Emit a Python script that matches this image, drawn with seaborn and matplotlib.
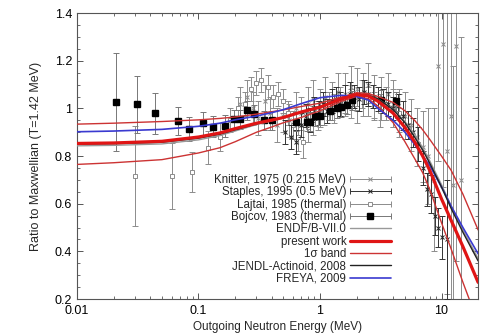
import numpy as np
import pandas as pd
import matplotlib
matplotlib.use("Agg")
import matplotlib.pyplot as plt
import seaborn as sns
from matplotlib.lines import Line2D
from matplotlib.container import ErrorbarContainer
from matplotlib.legend_handler import HandlerErrorbar
from matplotlib.ticker import FixedLocator, FuncFormatter, MultipleLocator, LogLocator, NullFormatter

# ---------------- data ----------------
E_grid = [0.01, 0.02, 0.05, 0.1, 0.15, 0.2, 0.3, 0.4, 0.5, 0.7, 1.0, 1.5, 2.0, 2.5,
          3.0, 4.0, 5.0, 6.0, 7.0, 8.0, 10.0, 12.0, 15.0, 20.0]
present = [0.853, 0.855, 0.862, 0.880, 0.897, 0.915, 0.938, 0.951, 0.962, 0.985, 1.005, 1.04,
           1.058, 1.052, 1.03, 0.98, 0.92, 0.86, 0.80, 0.74, 0.62, 0.53, 0.42, 0.27]
band_up = [0.934, 0.938, 0.945, 0.952, 0.958, 0.964, 0.976, 0.986, 0.994, 1.008, 1.022, 1.048,
           1.066, 1.062, 1.05, 1.025, 0.99, 0.95, 0.91, 0.87, 0.80, 0.74, 0.64, 0.49]
band_lo = [0.765, 0.772, 0.785, 0.813, 0.835, 0.86, 0.90, 0.922, 0.94, 0.962, 0.99, 1.03,
           1.05, 1.04, 1.01, 0.94, 0.86, 0.79, 0.73, 0.66, 0.52, 0.41, 0.27, 0.10]
freya = [0.902, 0.905, 0.912, 0.925, 0.938, 0.952, 0.968, 0.982, 0.995, 1.02, 1.045, 1.055,
         1.05, 1.035, 1.0, 0.95, 0.90, 0.85, 0.80, 0.76, 0.67, 0.59, 0.50, 0.39]
jendl = [0.850, 0.852, 0.858, 0.875, 0.892, 0.910, 0.935, 0.950, 0.962, 0.985, 1.008, 1.042,
         1.06, 1.055, 1.04, 0.995, 0.94, 0.88, 0.825, 0.77, 0.67, 0.58, 0.48, 0.36]
endf = [0.843, 0.845, 0.851, 0.868, 0.886, 0.905, 0.932, 0.948, 0.96, 0.982, 1.005, 1.04,
        1.058, 1.056, 1.04, 0.997, 0.945, 0.89, 0.835, 0.78, 0.68, 0.59, 0.49, 0.37]

knitter_E = [0.22, 0.25, 0.28, 0.31, 0.35, 0.39, 0.44, 0.5, 0.56, 0.63, 0.7, 0.79, 0.88, 1.0,
             1.1, 1.25, 1.4, 1.6, 1.8, 2.0, 2.25, 2.5, 2.8, 3.2, 3.6, 4.0, 4.5, 5.0, 5.6,
             6.3, 7.0, 7.8, 8.6, 9.4, 10.2, 11.0, 12.0, 12.4, 13.2, 14.5]
knitter_y = [1.02, 1.05, 1.00, 0.96, 1.03, 0.98, 0.93, 0.97, 0.95, 1.0, 0.98, 1.02, 1.04, 1.0,
             1.05, 1.03, 1.07, 1.06, 1.09, 1.08, 1.06, 1.1, 1.05, 1.04, 1.06, 1.02, 0.98, 0.97,
             0.93, 0.88, 0.84, 0.8, 0.70, 1.18, 1.27, 0.82, 0.97, 0.68, 1.26, 0.70]
knitter_err = [0.07, 0.07, 0.07, 0.07, 0.07, 0.07, 0.07, 0.07, 0.07, 0.07, 0.07, 0.07, 0.08,
               0.08, 0.08, 0.08, 0.08, 0.09, 0.09, 0.09, 0.09, 0.09, 0.09, 0.09, 0.09, 0.1,
               0.1, 0.1, 0.11, 0.12, 0.15, 0.2, 0.3, 0.4, 0.6, 0.6, 0.8, 0.5, 0.9, 0.6]

staples_E = [0.52, 0.58, 0.64, 0.7, 0.76, 0.82, 0.9, 0.98, 1.06, 1.15, 1.25, 1.35, 1.47, 1.6,
             1.75, 1.9, 2.1, 2.3, 2.5, 2.75, 3.0, 3.3, 3.6, 4.0, 4.4, 4.8, 5.3, 5.8, 6.4,
             7.0, 7.6, 8.2, 8.8, 9.4, 10.0, 11.0]
staples_y = [0.90, 0.88, 0.86, 0.93, 0.97, 0.95, 1.0, 0.98, 1.02, 0.99, 1.03, 1.04, 1.02, 1.05,
             1.06, 1.05, 1.04, 1.07, 1.06, 1.05, 1.04, 1.03, 1.02, 1.0, 1.01, 0.97, 0.93, 0.90,
             0.85, 0.75, 0.66, 0.64, 0.55, 0.50, 0.46, 0.45]
staples_err = [0.05, 0.05, 0.05, 0.05, 0.05, 0.05, 0.05, 0.05, 0.05, 0.05, 0.05, 0.05, 0.05,
               0.05, 0.05, 0.05, 0.05, 0.05, 0.05, 0.05, 0.05, 0.05, 0.05, 0.05, 0.05, 0.06,
               0.06, 0.06, 0.07, 0.07, 0.07, 0.08, 0.08, 0.08, 0.09, 0.25]

lajtai_E = [0.030, 0.060, 0.089, 0.12, 0.15, 0.18, 0.21, 0.24, 0.27, 0.30, 0.33, 0.37, 0.41,
            0.45, 0.50, 0.55, 0.60, 0.66, 0.72, 0.80, 0.88, 0.97, 1.07, 1.18, 1.3, 1.45, 1.6,
            1.8, 2.0, 2.2, 2.5, 2.8, 3.1, 3.5, 4.0, 4.5]
lajtai_y = [0.717, 0.716, 0.734, 0.835, 0.88, 0.95, 1.0, 1.02, 1.08, 1.105, 1.12, 1.09, 1.05,
            1.06, 1.03, 0.98, 0.93, 0.88, 0.86, 0.92, 0.95, 0.97, 0.99, 1.01, 1.0, 1.03, 1.04,
            1.02, 1.0, 1.06, 1.03, 1.01, 0.99, 1.02, 1.0, 0.98]
lajtai_err = [0.21, 0.14, 0.085, 0.07, 0.06, 0.05, 0.05, 0.05, 0.05, 0.05, 0.05, 0.05, 0.05,
              0.05, 0.05, 0.05, 0.06, 0.06, 0.07, 0.06, 0.06, 0.06, 0.06, 0.06, 0.06, 0.06,
              0.06, 0.06, 0.06, 0.06, 0.06, 0.06, 0.07, 0.07, 0.08, 0.08]

bojcov_E = [0.0211, 0.0311, 0.044, 0.0673, 0.0838, 0.109, 0.132, 0.165, 0.196, 0.219, 0.252,
            0.284, 0.345, 0.40, 0.63, 0.78, 0.83, 0.91, 1.0, 1.21, 1.37, 1.5, 1.66, 1.83,
            3.2, 4.2]
bojcov_y = [1.028, 1.017, 0.979, 0.948, 0.912, 0.937, 0.923, 0.926, 0.955, 0.955, 0.993,
            0.976, 0.951, 0.951, 0.944, 0.945, 0.945, 0.968, 0.97, 0.99, 1.0, 1.005, 1.015,
            1.034, 1.037, 1.03]
bojcov_err = [0.205, 0.12, 0.085, 0.06, 0.05, 0.05, 0.045, 0.045, 0.04, 0.04, 0.04, 0.04,
              0.04, 0.04, 0.04, 0.04, 0.04, 0.04, 0.04, 0.04, 0.04, 0.04, 0.04, 0.04, 0.04,
              0.04]

labels = ["Knitter, 1975 (0.215 MeV)", "Staples, 1995 (0.5 MeV)", "Lajtai, 1985 (thermal)",
          "Bojcov, 1983 (thermal)", "ENDF/B-VII.0", "present work", "1\u03c3 band",
          "JENDL-Actinoid, 2008", "FREYA, 2009"]

# ---------------- style ----------------
sns.set_style("ticks")
plt.rcParams["font.family"] = ["Liberation Sans", "DejaVu Sans"]
plt.rcParams["axes.edgecolor"] = "#555555"
plt.rcParams["xtick.color"] = "#555555"
plt.rcParams["ytick.color"] = "#555555"

fig = plt.figure(figsize=(4.81, 3.36), dpi=100)
ax = fig.add_axes([0.160, 0.110, 0.834, 0.851])

RED = "#e01515"
BAND = "#cc3333"
BLUE = "#3a3ad0"
GRAY = "#8c8c8c"

# data points
ax.errorbar(knitter_E, knitter_y, yerr=knitter_err, fmt="x", ms=3.5, mew=0.7,
            color=GRAY, ecolor=GRAY, elinewidth=0.7, capsize=2, capthick=0.7, zorder=2)
ax.errorbar(lajtai_E, lajtai_y, yerr=lajtai_err, fmt="s", ms=3.5, mfc="white", mew=0.7,
            color=GRAY, ecolor=GRAY, elinewidth=0.7, capsize=2, capthick=0.7, zorder=2)
ax.errorbar(staples_E, staples_y, yerr=staples_err, fmt="x", ms=2.5, mew=0.7,
            color="#222222", ecolor="#333333", elinewidth=0.7, capsize=2, capthick=0.7, zorder=3)
ax.errorbar(bojcov_E, bojcov_y, yerr=bojcov_err, fmt="s", ms=4, color="black",
            ecolor="#777777", elinewidth=0.7, capsize=2, capthick=0.7, zorder=4)

# curves
curves = pd.DataFrame({"E": E_grid, "present": present, "up": band_up, "lo": band_lo,
                       "freya": freya, "jendl": jendl, "endf": endf})
sns.lineplot(data=curves, x="E", y="endf", ax=ax, color="#999999", lw=1.0, zorder=5)
sns.lineplot(data=curves, x="E", y="up", ax=ax, color=BAND, lw=1.0, zorder=6)
sns.lineplot(data=curves, x="E", y="lo", ax=ax, color=BAND, lw=1.0, zorder=6)
sns.lineplot(data=curves, x="E", y="freya", ax=ax, color=BLUE, lw=1.2, zorder=6)
sns.lineplot(data=curves, x="E", y="jendl", ax=ax, color="#222222", lw=1.0, zorder=6)
sns.lineplot(data=curves, x="E", y="present", ax=ax, color=RED, lw=2.3, zorder=7)

ax.set_xscale("log")
ax.set_xlim(0.01, 20)
ax.set_ylim(0.2, 1.4)

# ticks
ax.xaxis.set_major_locator(FixedLocator([0.01, 0.1, 1, 10]))
ax.xaxis.set_major_formatter(FuncFormatter(lambda v, p: "%g" % v))
ax.xaxis.set_minor_locator(LogLocator(base=10, subs=np.arange(2, 10)))
ax.xaxis.set_minor_formatter(NullFormatter())
ax.yaxis.set_major_locator(MultipleLocator(0.2))
ax.yaxis.set_minor_locator(MultipleLocator(0.05))
ax.yaxis.set_major_formatter(FuncFormatter(lambda v, p: "%g" % round(v, 2)))
ax.tick_params(which="both", direction="in", top=True, right=True, labelsize=9,
               labelcolor="black")
ax.tick_params(axis="x", which="major", pad=4)
ax.tick_params(which="major", length=4, width=0.7)
ax.tick_params(which="minor", length=2, width=0.6)
for s in ax.spines.values():
    s.set_linewidth(0.8)
    s.set_color("#555555")

ax.set_xlabel("Outgoing Neutron Energy (MeV)", fontsize=8.5, labelpad=3)
ax.set_ylabel("Ratio to Maxwellian (T=1.42 MeV)", fontsize=9, labelpad=9)

# legend proxies
h_kn = ax.errorbar([np.nan], [np.nan], xerr=[1], fmt="x", ms=3.5, mew=0.7, color=GRAY,
                   ecolor=GRAY, elinewidth=0.7, capsize=2, capthick=0.7)
h_st = ax.errorbar([np.nan], [np.nan], xerr=[1], fmt="x", ms=2.5, mew=0.7, color="#222222",
                   ecolor="#333333", elinewidth=0.7, capsize=2, capthick=0.7)
h_la = ax.errorbar([np.nan], [np.nan], xerr=[1], fmt="s", ms=3.5, mfc="white", mew=0.7,
                   color=GRAY, ecolor=GRAY, elinewidth=0.7, capsize=2, capthick=0.7)
h_bo = ax.errorbar([np.nan], [np.nan], xerr=[1], fmt="s", ms=4, color="black",
                   ecolor="#777777", elinewidth=0.7, capsize=2, capthick=0.7)
handles = [h_kn, h_st, h_la, h_bo,
           Line2D([], [], color="#999999", lw=1.0),
           Line2D([], [], color=RED, lw=2.3),
           Line2D([], [], color=BAND, lw=1.0),
           Line2D([], [], color="#222222", lw=1.0),
           Line2D([], [], color=BLUE, lw=1.2)]
leg = ax.legend(handles, labels, loc="upper right", bbox_to_anchor=(0.782, 0.437),
                frameon=False, fontsize=8.3, markerfirst=False, handlelength=3.5,
                handletextpad=0.35, labelspacing=0.03, borderpad=0, borderaxespad=0,
                handler_map={ErrorbarContainer: HandlerErrorbar(xerr_size=1.75)})

fig.savefig("out.png", dpi=100)
